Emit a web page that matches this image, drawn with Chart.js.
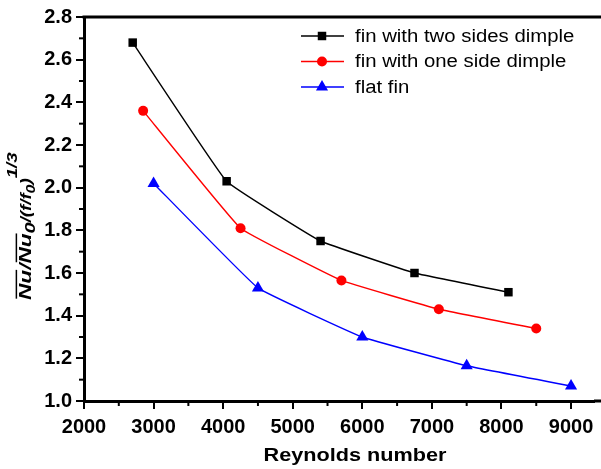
<!DOCTYPE html>
<html>
<head>
<meta charset="utf-8">
<script src="https://cdn.jsdelivr.net/npm/chart.js@4/dist/chart.umd.min.js"></script>
<style>
  html, body { margin: 0; padding: 0; background: #fff; overflow: hidden; }
  canvas { display: block; }
</style>
</head>
<body>
<canvas id="chart" width="601" height="469"></canvas>
<script>
// data
const seriesNames = ['fin with two sides dimple', 'fin with one side dimple', 'flat fin'];
const reTwo = [2700, 4050, 5400, 6750, 8100];
const nuTwo = [2.68, 2.03, 1.75, 1.60, 1.51];
const reOne = [2850, 4250, 5700, 7100, 8500];
const nuOne = [2.36, 1.81, 1.565, 1.43, 1.34];
const reFlat = [3000, 4500, 6000, 7500, 9000];
const nuFlat = [2.02, 1.53, 1.30, 1.165, 1.07];
const xTicks = [2000, 3000, 4000, 5000, 6000, 7000, 8000, 9000];
const yTicks = [1.0, 1.2, 1.4, 1.6, 1.8, 2.0, 2.2, 2.4, 2.6, 2.8];

const toPoints = (xs, ys) => xs.map((x, i) => ({ x: x, y: ys[i] }));
const FONT = 'Arial, "Liberation Sans", sans-serif';

function makeSet(name, xs, ys, color, style, radius) {
    return {
        label: name,
        data: toPoints(xs, ys),
        borderColor: color,
        backgroundColor: color,
        borderWidth: 1.4,
        pointStyle: style,
        pointRadius: radius,
        pointHoverRadius: radius,
        pointBorderWidth: 0,
        tension: 0.08
    };
}

// minor ticks, top frame line, legend, axis titles
const decor = {
    id: 'decor',
    afterDraw(chart) {
        const ctx = chart.ctx;
        const a = chart.chartArea;
        const xs = chart.scales.x, ys = chart.scales.y;
        ctx.save();
        ctx.strokeStyle = '#000';
        ctx.lineWidth = 3;
        ctx.beginPath();
        ctx.moveTo(a.left - 1.5, a.top);
        ctx.lineTo(chart.width, a.top);
        ctx.stroke();
        // bottom axis runs to the edge as well
        ctx.beginPath();
        ctx.moveTo(a.right, a.bottom);
        ctx.lineTo(chart.width, a.bottom);
        ctx.stroke();

        ctx.lineWidth = 2;
        for (let i = 0; i < xTicks.length; i++) {
            const px = xs.getPixelForValue(xTicks[i] + 500);
            if (px > a.right) break;
            ctx.beginPath();
            ctx.moveTo(px, a.bottom);
            ctx.lineTo(px, a.bottom + 5);
            ctx.stroke();
        }
        for (let i = 0; i < yTicks.length - 1; i++) {
            const py = ys.getPixelForValue(yTicks[i] + 0.1);
            ctx.beginPath();
            ctx.moveTo(a.left, py);
            ctx.lineTo(a.left - 5, py);
            ctx.stroke();
        }

        // legend
        chart.data.datasets.forEach((ds, i) => {
            const y = 36 + i * 25.5;
            ctx.strokeStyle = ds.borderColor;
            ctx.lineWidth = 1.4;
            ctx.beginPath();
            ctx.moveTo(301, y);
            ctx.lineTo(344, y);
            ctx.stroke();
            ctx.fillStyle = ds.backgroundColor;
            Chart.helpers.drawPoint(ctx, {
                pointStyle: ds.pointStyle, radius: ds.pointRadius, borderWidth: 0
            }, 322, y);
            ctx.fillStyle = '#000';
            ctx.font = '18px ' + FONT;
            ctx.textBaseline = 'middle';
            ctx.textAlign = 'left';
            ctx.save();
            ctx.translate(355, y + 1);
            ctx.scale(1.13, 1);
            ctx.fillText(ds.label, 0, 0);
            ctx.restore();
        });

        // x axis title
        ctx.save();
        ctx.translate(355, 461);
        ctx.scale(1.14, 1);
        ctx.font = 'bold 19px ' + FONT;
        ctx.textAlign = 'center';
        ctx.textBaseline = 'alphabetic';
        ctx.fillStyle = '#000';
        ctx.fillText('Reynolds number', 0, 0);
        ctx.restore();

        // y axis title: Nu/Nu0/(f/f0)^(1/3)
        ctx.translate(31, 300);
        ctx.rotate(-Math.PI / 2);
        ctx.scale(1.33, 1);
        ctx.fillStyle = '#000';
        ctx.strokeStyle = '#000';
        ctx.textBaseline = 'alphabetic';
        ctx.textAlign = 'left';
        let cx = 0;
        const put = (txt, size, dy, over) => {
            ctx.font = 'italic bold ' + size + 'px ' + FONT;
            ctx.fillText(txt, cx, dy);
            const w = ctx.measureText(txt).width;
            if (over) {
                ctx.lineWidth = 1.5;
                ctx.beginPath();
                ctx.moveTo(cx + 1, dy - size * 0.86);
                ctx.lineTo(cx + w, dy - size * 0.86);
                ctx.stroke();
            }
            cx += w;
        };
        put('Nu', 17, 0, true);
        put('/', 17, 0, false);
        put('Nu', 17, 0, true);
        put('0', 15, 4, false);
        put('/(f/f', 14, 0, false);
        put('0', 12, 4, false);
        put(')', 14, 0, false);
        put('1/3', 14, -14, false);
        ctx.restore();
    }
};

const ctx = document.getElementById('chart').getContext('2d');
new Chart(ctx, {
    type: 'line',
    data: {
        datasets: [
            makeSet(seriesNames[0], reTwo, nuTwo, '#000000', 'rect', 6),
            makeSet(seriesNames[1], reOne, nuOne, '#ff0000', 'circle', 5),
            makeSet(seriesNames[2], reFlat, nuFlat, '#0000ff', 'triangle', 7)
        ]
    },
    options: {
        responsive: false,
        animation: false,
        devicePixelRatio: 1,
        layout: { padding: { top: 17, right: 0, left: 0, bottom: 0 } },
        plugins: {
            legend: { display: false },
            tooltip: { enabled: false }
        },
        scales: {
            x: {
                type: 'linear',
                min: 2000,
                max: 9330,
                afterBuildTicks: s => { s.ticks = xTicks.map(v => ({ value: v })); },
                afterFit: s => { s.height = 68; },
                border: { display: true, color: '#000', width: 3 },
                grid: { drawOnChartArea: false, drawTicks: true, tickLength: 8, color: '#000', lineWidth: 2 },
                ticks: {
                    color: '#000',
                    padding: 6,
                    maxRotation: 0,
                    font: { family: FONT, size: 20, weight: 'bold' },
                    callback: v => String(v)
                }
            },
            y: {
                min: 1.0,
                max: 2.8,
                afterBuildTicks: s => { s.ticks = yTicks.map(v => ({ value: v })); },
                afterFit: s => { s.width = 84; },
                border: { display: true, color: '#000', width: 3 },
                grid: { drawOnChartArea: false, drawTicks: true, tickLength: 8, color: '#000', lineWidth: 2 },
                ticks: {
                    color: '#000',
                    padding: 4,
                    font: { family: FONT, size: 20, weight: 'bold' },
                    callback: v => v.toFixed(1)
                }
            }
        }
    },
    plugins: [decor]
});
</script>
</body>
</html>
